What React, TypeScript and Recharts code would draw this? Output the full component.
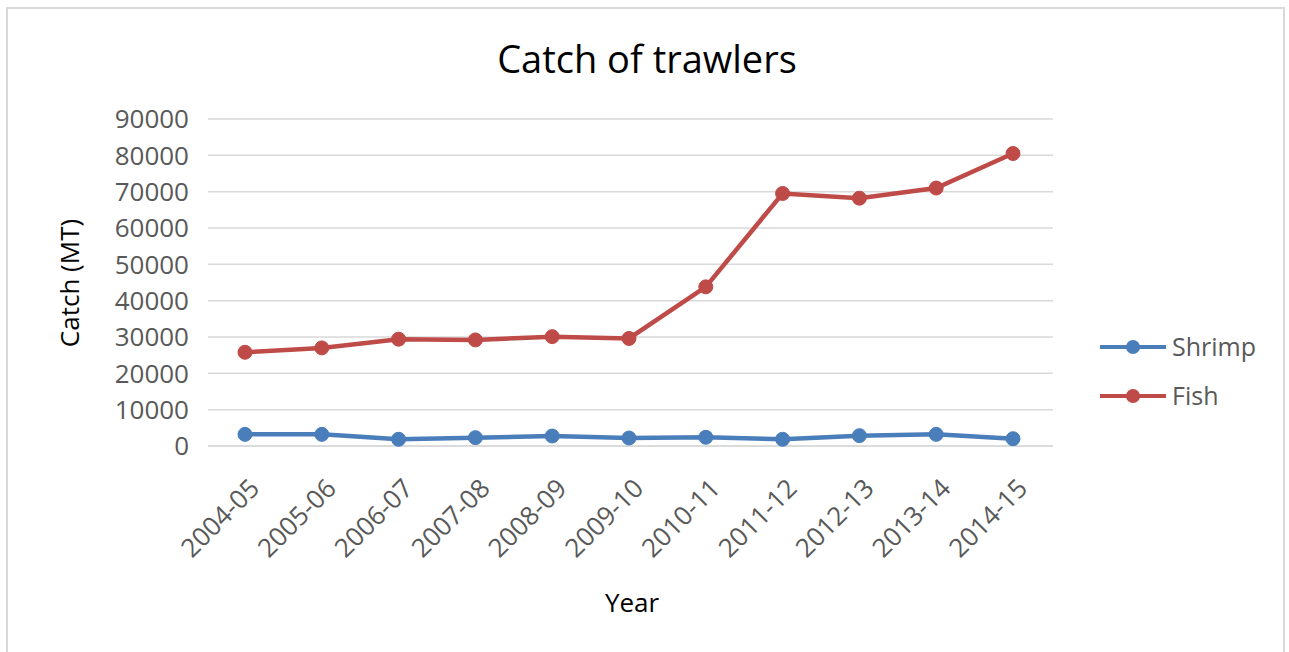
import React from 'react';
import { LineChart, Line, XAxis, YAxis, CartesianGrid } from 'recharts';

const years = ['2004-05', '2005-06', '2006-07', '2007-08', '2008-09', '2009-10', '2010-11', '2011-12', '2012-13', '2013-14', '2014-15'];
const shrimp = [3200, 3200, 1850, 2300, 2750, 2200, 2400, 1850, 2850, 3200, 2000];
const fish = [25800, 27000, 29400, 29200, 30100, 29600, 43800, 69500, 68200, 71000, 80500];
const yTicks = [0, 10000, 20000, 30000, 40000, 50000, 60000, 70000, 80000, 90000];
const seriesNames = ['Shrimp', 'Fish'];

const BLUE = '#4a7ebb';
const RED = '#be4b48';
const FONT = '"Open Sans", sans-serif';
const seriesColors = [BLUE, RED];

const data = years.map((year, i) => ({ year, Shrimp: shrimp[i], Fish: fish[i] }));

const XTick = (props: any) => {
  const { x, y, payload } = props;
  return (
    <g transform={`translate(${x + 16},${y + 44})`}>
      <text x={0} y={0} textAnchor="end" transform="rotate(-45)" fill="#595959" fontSize={26} fontFamily={FONT}>
        {payload.value}
      </text>
    </g>
  );
};

export default function App() {
  return (
    <div style={{ position: 'absolute', left: 0, top: 0, width: 1289, height: 652, background: '#fff', fontFamily: FONT, overflow: 'hidden' }}>
      <div style={{ position: 'absolute', left: 6, top: 7, width: 1279, height: 660, borderLeft: '2px solid #d9d9d9', borderTop: '2px solid #d9d9d9', borderRight: '2px solid #d9d9d9', boxSizing: 'border-box' }} />
      <LineChart
        width={1289}
        height={652}
        data={data}
        margin={{ top: 119, right: 236, left: 0, bottom: 56 }}
        style={{ position: 'absolute', left: 0, top: 0 }}
      >
        <CartesianGrid vertical={false} stroke="#d9d9d9" strokeWidth={1.5} />
        <XAxis
          dataKey="year"
          height={150}
          axisLine={{ stroke: '#d9d9d9', strokeWidth: 1.5 }}
          tickLine={false}
          tickSize={0}
          tickMargin={0}
          padding={{ left: 37, right: 40 }}
          interval={0}
          tick={<XTick />}
        />
        <YAxis
          width={208}
          domain={[0, 90000]}
          ticks={yTicks}
          interval={0}
          axisLine={false}
          tickLine={false}
          tickSize={0}
          tickMargin={19}
          tick={{ fill: '#595959', fontSize: 26, fontFamily: FONT }}
        />
        <Line
          type="linear"
          dataKey="Shrimp"
          stroke={BLUE}
          strokeWidth={4.5}
          dot={{ r: 7, fill: BLUE, stroke: BLUE, strokeWidth: 1 }}
          activeDot={false}
          isAnimationActive={false}
        />
        <Line
          type="linear"
          dataKey="Fish"
          stroke={RED}
          strokeWidth={4.5}
          dot={{ r: 7, fill: RED, stroke: RED, strokeWidth: 1 }}
          activeDot={false}
          isAnimationActive={false}
        />
      </LineChart>
      <svg width={1289} height={652} style={{ position: 'absolute', left: 0, top: 0, pointerEvents: 'none' }}>
        <text x={647} y={73} textAnchor="middle" fill="#000" fontSize={38} fontFamily={FONT}>Catch of trawlers</text>
        <text x={632} y={612} textAnchor="middle" fill="#000" fontSize={26} fontFamily={FONT}>Year</text>
        <text x={0} y={0} transform="translate(79,283) rotate(-90)" textAnchor="middle" fill="#000" fontSize={26} fontFamily={FONT}>Catch (MT)</text>
        {seriesNames.map((name, i) => {
          const cy = 347 + i * 49;
          return (
            <g key={name}>
              <line x1={1100} x2={1166} y1={cy} y2={cy} stroke={seriesColors[i]} strokeWidth={4} />
              <circle cx={1133} cy={cy} r={7} fill={seriesColors[i]} />
              <text x={1172} y={cy + 9} fill="#595959" fontSize={25} fontFamily={FONT}>{name}</text>
            </g>
          );
        })}
      </svg>
    </div>
  );
}
